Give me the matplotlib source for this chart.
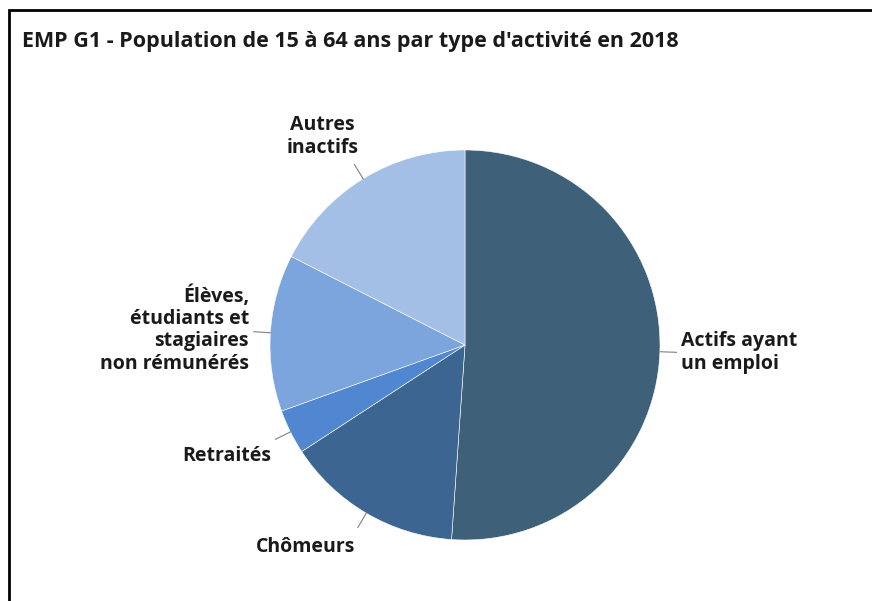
import numpy as np
import matplotlib.pyplot as plt
from matplotlib.patches import Rectangle

# Données (parts estimées, en %)
categories = ["Actifs ayant\nun emploi", "Chômeurs", "Retraités",
              "Élèves,\nétudiants et\nstagiaires\nnon rémunérés", "Autres\ninactifs"]
parts = [51.1, 14.7, 3.7, 13.0, 17.5]
couleurs = ["#3e6079", "#3d6591", "#5186d1", "#7ba5dc", "#a4bfe6"]
titre = "EMP G1 - Population de 15 à 64 ans par type d'activité en 2018"

plt.rcParams['font.family'] = ['Open Sans', 'DejaVu Sans']

fig = plt.figure(figsize=(8.72, 6.01), dpi=100)

# cadre noir (coupé à droite et en bas)
fig.patches.append(Rectangle((9/872, -0.05), 1.0, 1 - 10/601 + 0.05,
                             transform=fig.transFigure, fill=False,
                             edgecolor="black", lw=2))

fig.text(22/872, 1 - 42/601, titre, fontsize=15.5, fontweight="bold",
         va="center", ha="left", color="#1a1a1a")

ax = fig.add_axes([270/872, 61/601, 390/872, 390/601])
wedges, _ = ax.pie(parts, colors=couleurs, startangle=90, counterclock=False,
                   radius=1, wedgeprops=dict(edgecolor="white", linewidth=0.4))
ax.set_xlim(-1, 1)
ax.set_ylim(-1, 1)
ax.set_aspect("equal")
ax.axis("off")

# position des étiquettes (rayon, alignement, décalages)
layout = [
    (1.11, "left", "center", 0.0, 0.0),
    (1.2, "center", "top", -0.21, 0.05),
    (1.11, "right", "center", 0.0, -0.075),
    (1.11, "right", "center", 0.0, 0.01),
    (1.15, "center", "bottom", -0.13, -0.02),
]

for w, lab, (r, ha, va, dx, dy) in zip(wedges, categories, layout):
    ang = np.deg2rad((w.theta1 + w.theta2) / 2)
    x0, y0 = np.cos(ang), np.sin(ang)
    ax.plot([x0, 1.085 * x0], [y0, 1.085 * y0], color="#808080", lw=0.8,
            clip_on=False)
    ax.text(r * x0 + dx, r * y0 + dy, lab, ha=ha, va=va,
            multialignment=ha if ha != "center" else "center",
            fontsize=14, fontweight="bold", color="#1a1a1a",
            linespacing=1.15, clip_on=False)

fig.savefig("out.png", dpi=100)
